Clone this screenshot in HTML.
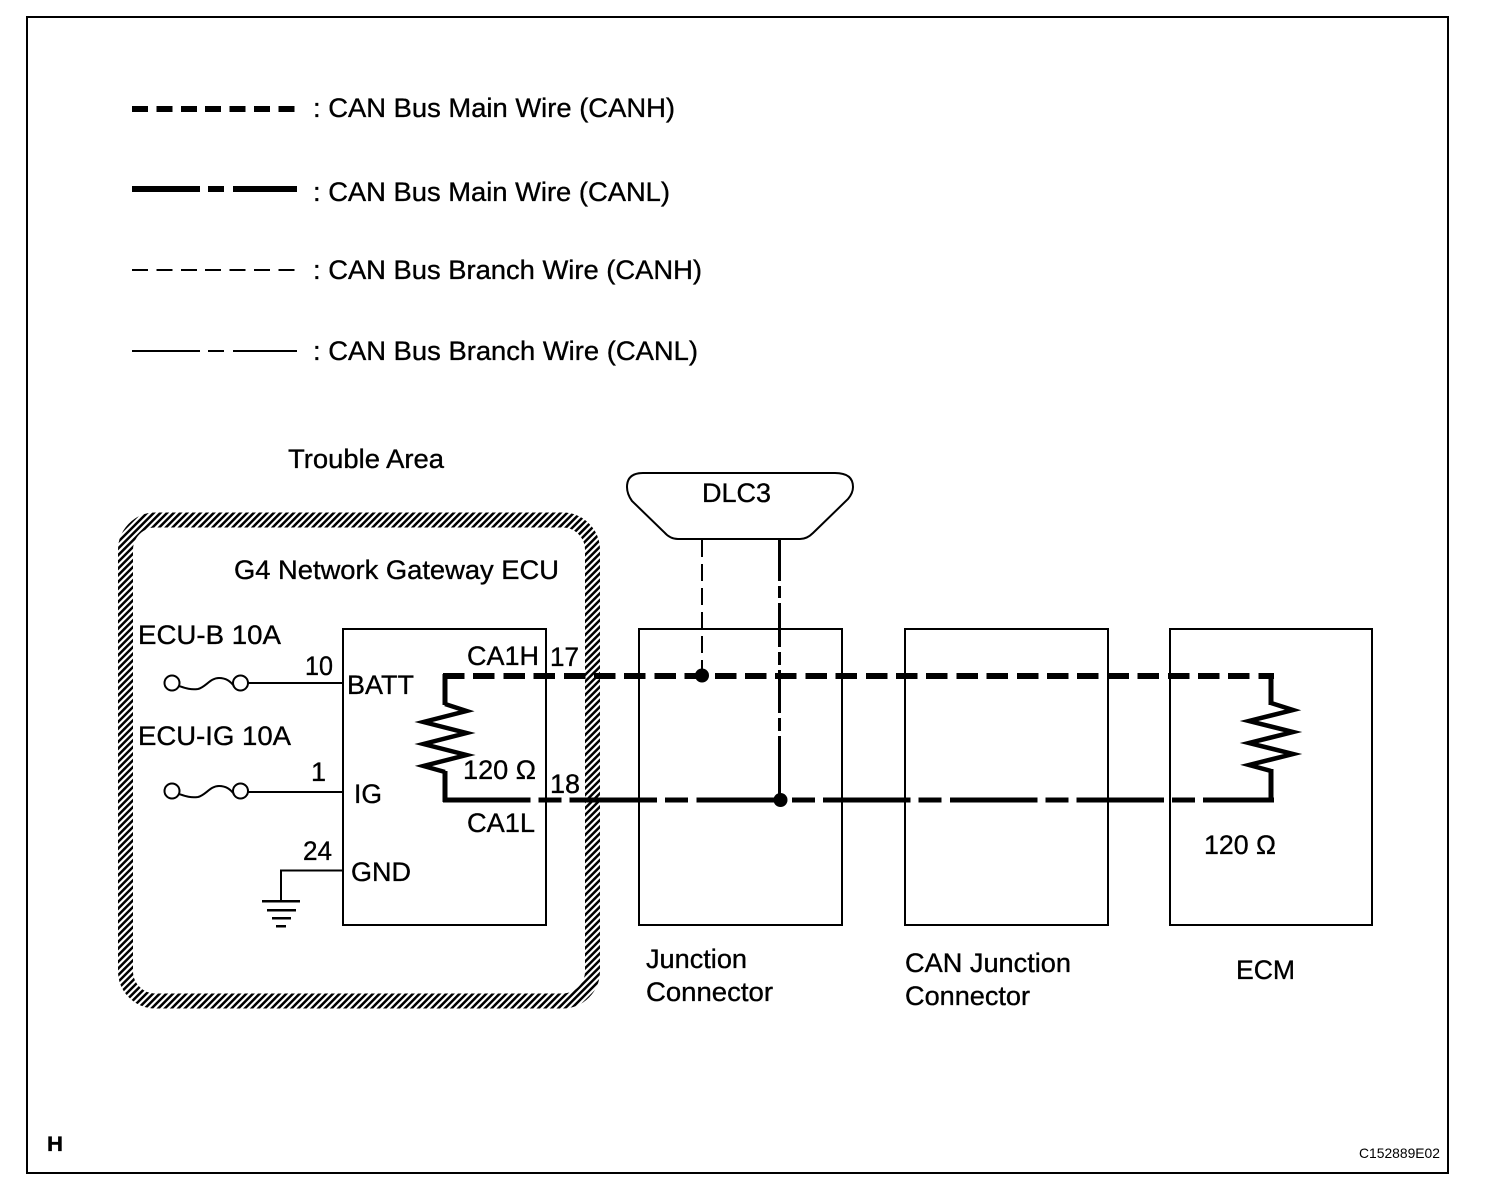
<!DOCTYPE html>
<html>
<head>
<meta charset="utf-8">
<title>CAN Bus Diagram</title>
<style>
html,body{margin:0;padding:0;background:#fff;}
svg{display:block;}
text{font-family:"Liberation Sans",Arial,sans-serif;font-size:27px;fill:#000;stroke:#000;stroke-width:.35px;}
.s{fill:none;stroke:#000;shape-rendering:crispEdges;}
.g{fill:none;stroke:#000;}
</style>
</head>
<body>
<svg width="1504" height="1196" viewBox="0 0 1504 1196" xmlns="http://www.w3.org/2000/svg">
<defs>
<pattern id="hatch" patternUnits="userSpaceOnUse" width="20" height="20">
<path d="M-2 2L2 -2M-2 8.67L8.67 -2M-2 15.33L15.33 -2M-2 22L22 -2M4.67 22L22 4.67M11.33 22L22 11.33M18 22L22 18" stroke="#000" stroke-width="2.5" fill="none"/>
</pattern>
</defs>
<rect width="1504" height="1196" fill="#fff"/>
<rect class="s" x="27" y="17" width="1421" height="1156" stroke-width="2"/>

<!-- Legend -->
<line class="s" x1="132" y1="109" x2="297" y2="109" stroke-width="6" stroke-dasharray="16 8.4"/>
<path class="s" d="M132 189H200M208 189H224M233 189H297" stroke-width="6"/>
<line class="s" x1="132" y1="270" x2="297" y2="270" stroke-width="2" stroke-dasharray="16 8.4"/>
<path class="s" d="M132 351H200M208 351H224M233 351H297" stroke-width="2"/>
<text x="313" y="117" textLength="362" lengthAdjust="spacingAndGlyphs">: CAN Bus Main Wire (CANH)</text>
<text x="313" y="201" textLength="357" lengthAdjust="spacingAndGlyphs">: CAN Bus Main Wire (CANL)</text>
<text x="313" y="279" textLength="389" lengthAdjust="spacingAndGlyphs">: CAN Bus Branch Wire (CANH)</text>
<text x="313" y="360" textLength="385" lengthAdjust="spacingAndGlyphs">: CAN Bus Branch Wire (CANL)</text>

<!-- Trouble area -->
<text x="288" y="468" textLength="156" lengthAdjust="spacingAndGlyphs">Trouble Area</text>
<rect x="125.5" y="520" width="467" height="481" rx="30" ry="30" fill="none" stroke="url(#hatch)" stroke-width="15"/>
<text x="234" y="579" textLength="325" lengthAdjust="spacingAndGlyphs">G4 Network Gateway ECU</text>

<!-- Boxes -->
<rect class="s" x="343" y="629" width="203" height="296" stroke-width="2"/>
<rect class="s" x="639" y="629" width="203" height="296" stroke-width="2"/>
<rect class="s" x="905" y="629" width="203" height="296" stroke-width="2"/>
<rect class="s" x="1170" y="629" width="202" height="296" stroke-width="2"/>

<!-- DLC3 -->
<path class="g" stroke-width="2" fill="#fff" d="M643 473H835Q853 473 853 487Q853 493 848 499L813 533Q807 539 800 539H678Q670 539 664 532L632 501Q627 494 627 487Q627 473 643 473Z"/>
<text x="702" y="502" textLength="69" lengthAdjust="spacingAndGlyphs">DLC3</text>
<line class="s" x1="702" y1="540" x2="702" y2="676" stroke-width="2" stroke-dasharray="17 7"/>
<path class="s" d="M779.5 539V581M779.5 586V598M779.5 603V647M779.5 652V665M779.5 670V713M779.5 718V731M779.5 736V795" stroke-width="3"/>

<!-- CANH -->
<line class="s" x1="443" y1="676" x2="1274" y2="676" stroke-width="6" stroke-dasharray="21.5 8.7"/>
<!-- CANL -->
<line class="s" x1="443" y1="800" x2="1274" y2="800" stroke-width="5" stroke-dasharray="87.5 8 23 8.2"/>

<circle cx="702" cy="675.5" r="7" fill="#000"/>
<circle cx="780.5" cy="800" r="7" fill="#000"/>

<!-- Resistors -->
<path class="g" stroke-width="5" d="M445 674V705M445 771V802M1271 674V705M1271 769V802"/>
<path class="g" stroke-width="4.5" stroke-miterlimit="10" d="M445 704L466.5 711L423.5 722L466.5 733L423.5 744L466.5 755L423.5 766L445 772"/>
<path class="g" stroke-width="4.5" stroke-miterlimit="10" d="M1271 703L1293 710L1249 721L1293 732L1249 743L1293 754L1249 765L1271 771"/>

<!-- Fuses and wires -->
<circle class="g" cx="172" cy="683" r="7.5" stroke-width="2" fill="#fff"/>
<circle class="g" cx="240.5" cy="683" r="7.5" stroke-width="2" fill="#fff"/>
<path class="g" stroke-width="2" d="M179 686C185 688 190 690 198 689C206 687 210 678 219 678C226 678 230 681 234 686"/>
<line class="s" x1="248" y1="683" x2="343" y2="683" stroke-width="2"/>
<circle class="g" cx="172" cy="791" r="7.5" stroke-width="2" fill="#fff"/>
<circle class="g" cx="240.5" cy="791" r="7.5" stroke-width="2" fill="#fff"/>
<path class="g" stroke-width="2" d="M179 794C185 796 190 798 198 797C206 795 210 786 219 786C226 786 230 789 234 794"/>
<line class="s" x1="248" y1="792" x2="343" y2="792" stroke-width="2"/>

<!-- Ground -->
<path class="s" stroke-width="2" d="M343 870.5H281V901"/>
<path class="s" stroke-width="2.5" d="M262 901H300M267 910H296M272 918H291M276 926H286"/>

<!-- Labels -->
<text x="138" y="644" textLength="143" lengthAdjust="spacingAndGlyphs">ECU-B 10A</text>
<text x="305" y="675" textLength="28" lengthAdjust="spacingAndGlyphs">10</text>
<text x="347" y="694" textLength="67" lengthAdjust="spacingAndGlyphs">BATT</text>
<text x="467" y="665" textLength="72" lengthAdjust="spacingAndGlyphs">CA1H</text>
<text x="550" y="666" textLength="29" lengthAdjust="spacingAndGlyphs">17</text>
<text x="463" y="779" textLength="73" lengthAdjust="spacingAndGlyphs">120 Ω</text>
<text x="550" y="793" textLength="30" lengthAdjust="spacingAndGlyphs">18</text>
<text x="467" y="832" textLength="68" lengthAdjust="spacingAndGlyphs">CA1L</text>
<text x="138" y="745" textLength="153" lengthAdjust="spacingAndGlyphs">ECU-IG 10A</text>
<text x="311" y="781">1</text>
<text x="354" y="803" textLength="28" lengthAdjust="spacingAndGlyphs">IG</text>
<text x="303" y="860" textLength="29" lengthAdjust="spacingAndGlyphs">24</text>
<text x="351" y="881" textLength="60" lengthAdjust="spacingAndGlyphs">GND</text>
<text x="646" y="968" textLength="101" lengthAdjust="spacingAndGlyphs">Junction</text>
<text x="646" y="1001" textLength="127" lengthAdjust="spacingAndGlyphs">Connector</text>
<text x="905" y="972" textLength="166" lengthAdjust="spacingAndGlyphs">CAN Junction</text>
<text x="905" y="1005" textLength="125" lengthAdjust="spacingAndGlyphs">Connector</text>
<text x="1236" y="979" textLength="59" lengthAdjust="spacingAndGlyphs">ECM</text>
<text x="1204" y="854" textLength="72" lengthAdjust="spacingAndGlyphs">120 Ω</text>
<text x="47" y="1151" style="font-size:21px;font-weight:bold" textLength="16" lengthAdjust="spacingAndGlyphs">H</text>
<text x="1359" y="1158" style="font-size:14px;stroke-width:0" textLength="81" lengthAdjust="spacingAndGlyphs">C152889E02</text>
</svg>
</body>
</html>
